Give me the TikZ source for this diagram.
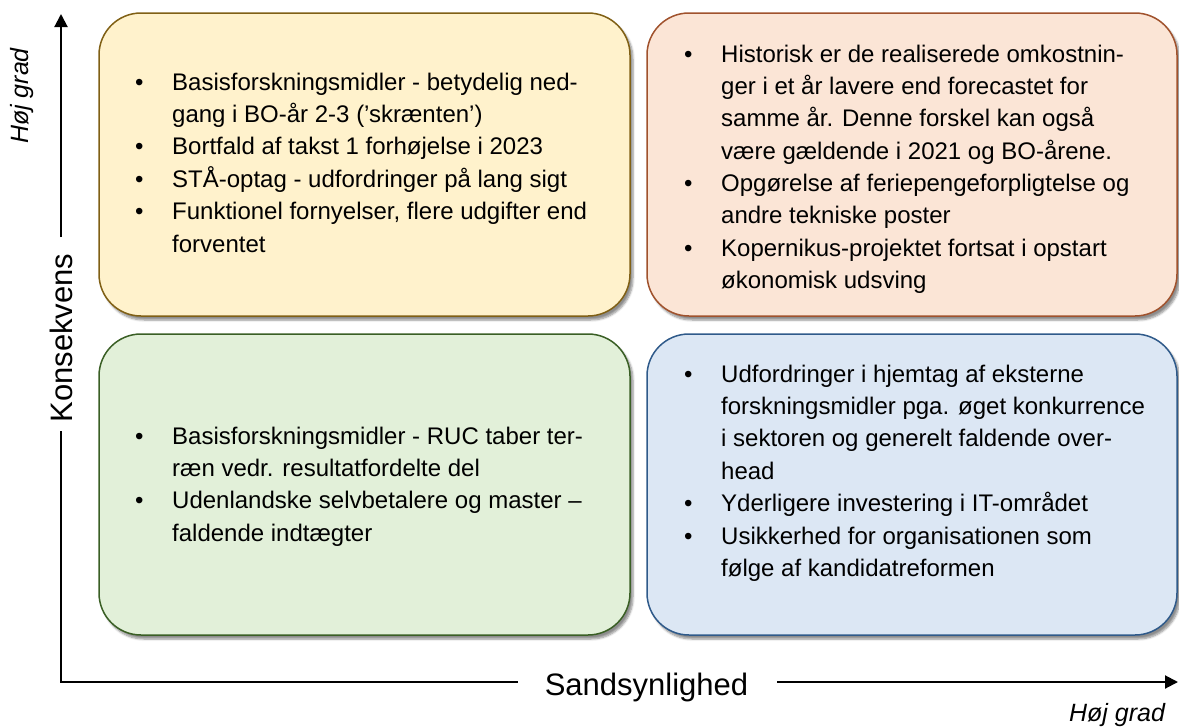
\documentclass[tikz,border=0pt]{standalone}
\usepackage{fontspec}
\setmainfont{Liberation Sans}
\usetikzlibrary{arrows.meta,shadows.blur}
\definecolor{yfill}{HTML}{FFF2CC}
\definecolor{ydraw}{HTML}{806015}
\definecolor{ofill}{HTML}{FBE5D6}
\definecolor{odraw}{HTML}{A0522D}
\definecolor{gfill}{HTML}{E2F0D9}
\definecolor{gdraw}{HTML}{3A5F25}
\definecolor{bfill}{HTML}{DCE7F4}
\definecolor{bdraw}{HTML}{2F5A8A}
\newcommand\bodyfont{\fontsize{24pt}{32.4pt}\selectfont}
\newcommand\itm[1]{\par\noindent\hangindent=37pt\hangafter=1\makebox[37pt][l]{•}#1}
\tikzset{
  quad/.style={rounded corners=42pt, line width=1.5pt,
    blur shadow={shadow xshift=3pt, shadow yshift=-4pt, shadow blur steps=6, shadow opacity=45}},
  itemtext/.style={anchor=base west, inner sep=0pt, font=\bodyfont},
  axislabel/.style={inner sep=0pt, font=\fontsize{31pt}{36pt}\selectfont},
  gradlabel/.style={inner sep=0pt, font=\fontsize{25pt}{28pt}\selectfont\itshape},
  axis/.style={line width=2pt, black},
  tip/.style={-{Triangle[width=13pt,length=13pt]}}
}
\begin{document}
\begin{tikzpicture}[x=1pt,y=-1pt]
\useasboundingbox (0,0) rectangle (1179,728);
% quadrants
\path[quad, fill=yfill, draw=ydraw] (99,13) rectangle (630,316);
\path[quad, fill=ofill, draw=odraw] (647,13) rectangle (1177,316);
\path[quad, fill=gfill, draw=gdraw] (99,334) rectangle (630,635);
\path[quad, fill=bfill, draw=bdraw] (647,334) rectangle (1177,635);
% texts
\node[itemtext] (ytext) at (135,90) {\parbox[t]{480pt}{\raggedright
\itm{Basisforskningsmidler - betydelig ned-\newline gang i BO-år 2-3 ('skrænten')}
\itm{Bortfald af takst 1 forhøjelse i 2023}
\itm{STÅ-optag - udfordringer på lang sigt}
\itm{Funktionel fornyelser, flere udgifter end\newline forventet}}};
\begin{scope}
\clip (647,13) rectangle (1177,292);
\node[itemtext] (otext) at (684,62) {\parbox[t]{480pt}{\raggedright
\itm{Historisk er de realiserede omkostnin-\newline ger i et år lavere end forecastet for\newline samme år. Denne forskel kan også\newline være gældende i 2021 og BO-årene.}
\itm{Opgørelse af feriepengeforpligtelse og\newline andre tekniske poster}
\itm{Kopernikus-projektet fortsat i opstart\newline økonomisk udsving}}};
\end{scope}
\node[itemtext] (gtext) at (135,444) {\parbox[t]{480pt}{\raggedright
\itm{Basisforskningsmidler - RUC taber ter-\newline ræn vedr. resultatfordelte del}
\itm{Udenlandske selvbetalere og master –\newline faldende indtægter}}};
\node[itemtext] (btext) at (684,382) {\parbox[t]{480pt}{\raggedright
\itm{Udfordringer i hjemtag af eksterne\newline forskningsmidler pga. øget konkurrence\newline i sektoren og generelt faldende over-\newline head}
\itm{Yderligere investering i IT-området}
\itm{Usikkerhed for organisationen som\newline følge af kandidatreformen}}};
% axes
\coordinate (origin) at (61,682);
\coordinate (ytip) at (61,14);
\coordinate (xtip) at (1178,682);
\node[axislabel, rotate=90] (konsek) at (61,338) {Konsekvens};
\node[axislabel, anchor=base] (sands) at (646.5,695) {Sandsynlighed};
\coordinate (ybreaklo) at (61,431);
\coordinate (ybreakhi) at (61,237);
\coordinate (xbreaklo) at (518,682);
\coordinate (xbreakhi) at (777,682);
\draw[axis] (ybreaklo) -- (origin) -- (xbreaklo);
\draw[axis, tip] (ybreakhi) -- (ytip);
\draw[axis, tip] (xbreakhi) -- (xtip);
\node[gradlabel, rotate=90] (gradY) at (22,96) {Høj grad};
\node[gradlabel] (gradX) at (1117,715) {Høj grad};
\end{tikzpicture}
\end{document}
